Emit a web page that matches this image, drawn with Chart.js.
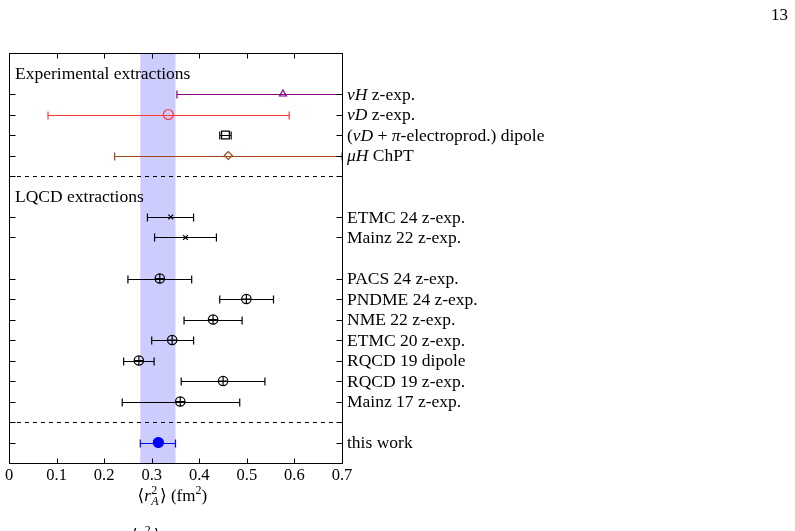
<!DOCTYPE html>
<html>
<head>
<meta charset="utf-8">
<script src="https://cdn.jsdelivr.net/npm/chart.js@4.4.1/dist/chart.umd.min.js"></script>
<style>
body { margin: 0; background: #fff; }
#wrap { position: relative; width: 795px; height: 531px; }
</style>
</head>
<body>
<div id="wrap"><canvas id="radiusChart"></canvas></div>
<script>
// rows, top to bottom (*...* = italic)
const rowNames = ['*νH* z-exp.', '*νD* z-exp.', '(*νD* + *π*-electroprod.) dipole', '*μH* ChPT',
    'ETMC 24 z-exp.', 'Mainz 22 z-exp.',
    'PACS 24 z-exp.', 'PNDME 24 z-exp.', 'NME 22 z-exp.', 'ETMC 20 z-exp.',
    'RQCD 19 dipole', 'RQCD 19 z-exp.', 'Mainz 17 z-exp.',
    'this work'];
const rowPos = [18, 17, 16, 15, 12, 11, 9, 8, 7, 6, 5, 4, 3, 1];
const centers = [0.576, 0.335, 0.455, 0.461, 0.340, 0.371, 0.317, 0.499, 0.429, 0.343, 0.273, 0.450, 0.360, 0.314];
const errLow  = [0.353, 0.082, 0.443, 0.222, 0.291, 0.306, 0.250, 0.443, 0.368, 0.300, 0.241, 0.362, 0.238, 0.276];
const errHigh = [0.799, 0.589, 0.467, 0.700, 0.388, 0.436, 0.384, 0.556, 0.490, 0.388, 0.305, 0.538, 0.485, 0.350];
const dividers = [14, 2];
const sectionNames = ['Experimental extractions', 'LQCD extractions'];
const sectionPos = [19, 13];
const xTicks = [0, 0.1, 0.2, 0.3, 0.4, 0.5, 0.6, 0.7];
const yTicks = [1, 2, 3, 4, 5, 6, 7, 8, 9, 11, 12, 14, 15, 16, 17, 18];

// marker styles per row
const markers = ['triangle', 'circle', 'rect', 'rectRot', 'crossRot', 'crossRot',
    'oplus', 'oplus', 'oplus', 'oplus', 'oplus', 'oplus', 'oplus', 'dot'];
const colors = ['#800080', '#ff3838', '#000000', '#a0461e', '#000000', '#000000',
    '#000000', '#000000', '#000000', '#000000', '#000000', '#000000', '#000000', '#0000ff'];
const radii = { triangle: 4, circle: 5, rect: 5.5, rectRot: 4, crossRot: 3.4, oplus: 4.7, dot: 5 };

const SERIF = "'Liberation Serif', 'DejaVu Serif', serif";
const LABEL_SIZE = 17.5;
const last = centers.length - 1;

function drawRich(ctx, text, x, y, size) {
    const parts = text.split('*');
    parts.forEach((p, i) => {
        if (!p) return;
        ctx.font = (i % 2 ? 'italic ' : '') + size + 'px ' + SERIF;
        ctx.fillText(p, x, y);
        x += ctx.measureText(p).width;
    });
}

const decorations = {
    id: 'decorations',
    beforeDatasetsDraw(chart) {
        const { ctx, chartArea: a, scales: { x, y } } = chart;
        ctx.save();
        ctx.beginPath();
        ctx.rect(a.left, a.top, a.width, a.height);
        ctx.clip();

        // band = this work's uncertainty
        const b0 = x.getPixelForValue(errLow[last]);
        const b1 = x.getPixelForValue(errHigh[last]);
        ctx.fillStyle = '#ccccff';
        ctx.fillRect(b0, a.top, b1 - b0, a.height);

        // dashed separators
        ctx.strokeStyle = '#000';
        ctx.lineWidth = 1;
        ctx.setLineDash([4, 4]);
        dividers.forEach(v => {
            const py = Math.round(y.getPixelForValue(v)) + 0.5;
            ctx.beginPath();
            ctx.moveTo(a.left, py);
            ctx.lineTo(a.right, py);
            ctx.stroke();
        });
        ctx.setLineDash([]);

        // error bars
        centers.forEach((c, i) => {
            const py = Math.round(y.getPixelForValue(rowPos[i])) + 0.5;
            const lo = x.getPixelForValue(errLow[i]);
            const hi = x.getPixelForValue(errHigh[i]);
            ctx.strokeStyle = colors[i];
            ctx.lineWidth = 1.2;
            ctx.beginPath();
            ctx.moveTo(lo, py); ctx.lineTo(hi, py);
            ctx.moveTo(lo, py - 4); ctx.lineTo(lo, py + 4);
            ctx.moveTo(hi, py - 4); ctx.lineTo(hi, py + 4);
            ctx.stroke();
        });
        ctx.restore();
    },
    afterDraw(chart) {
        const { ctx, chartArea: a, scales: { x, y } } = chart;
        ctx.save();
        ctx.strokeStyle = '#000';
        ctx.lineWidth = 1;
        const L = Math.round(a.left) + 0.5, R = Math.round(a.right) + 0.5;
        const T = Math.round(a.top) + 0.5, B = Math.round(a.bottom) + 0.5;
        ctx.strokeRect(L, T, R - L, B - T);

        // inward ticks
        ctx.beginPath();
        x.ticks.forEach(t => {
            const px = Math.round(x.getPixelForValue(t.value)) + 0.5;
            ctx.moveTo(px, B); ctx.lineTo(px, B - 5);
            ctx.moveTo(px, T); ctx.lineTo(px, T + 5);
        });
        y.ticks.forEach(t => {
            const py = Math.round(y.getPixelForValue(t.value)) + 0.5;
            ctx.moveTo(L, py); ctx.lineTo(L + 6, py);
            ctx.moveTo(R, py); ctx.lineTo(R - 6, py);
        });
        ctx.stroke();

        // row labels on the right
        ctx.fillStyle = '#000';
        ctx.textBaseline = 'middle';
        ctx.textAlign = 'left';
        rowNames.forEach((n, i) => {
            drawRich(ctx, n, a.right + 5, y.getPixelForValue(rowPos[i]) + 1, LABEL_SIZE);
        });
        sectionNames.forEach((n, i) => {
            drawRich(ctx, n, a.left + 6, y.getPixelForValue(sectionPos[i]) + 1, LABEL_SIZE);
        });

        // axis title <r_A^2> (fm^2)
        ctx.textBaseline = 'alphabetic';
        const base = 501;
        let cx = (a.left + a.right) / 2 - 38;
        const put = (s, style, size, dy) => {
            ctx.font = style + size + 'px ' + SERIF;
            ctx.fillText(s, cx, base + dy);
            return ctx.measureText(s).width;
        };
        cx += put('⟨', '', 17, 0);
        cx += put('r', 'italic ', 17, 0) + 0.5;
        const w2 = put('2', '', 12, -7);
        const wA = put('A', 'italic ', 12, 4);
        cx += Math.max(w2, wA) + 1.5;
        cx += put('⟩ (fm', '', 17, 0);
        cx += put('2', '', 12, -7);
        put(')', '', 17, 0);

        // page number and cut-off text below
        ctx.font = '17px ' + SERIF;
        ctx.textAlign = 'right';
        ctx.fillText('13', 788, 20);
        ctx.textAlign = 'left';
        cx = 131;
        const b2 = 541;
        ctx.font = '17px ' + SERIF;
        ctx.fillText('⟨', cx, b2); cx += ctx.measureText('⟨').width;
        ctx.font = 'italic 17px ' + SERIF;
        ctx.fillText('r', cx, b2); cx += ctx.measureText('r').width + 0.5;
        ctx.font = '12px ' + SERIF;
        ctx.fillText('2', cx, b2 - 7); cx += ctx.measureText('2').width + 3;
        ctx.font = '17px ' + SERIF;
        ctx.fillText('⟩', cx, b2);
        ctx.restore();
    }
};

const mainPoints = centers.map((c, i) => ({ x: c, y: rowPos[i] }));
const plusPoints = mainPoints.filter((p, i) => markers[i] === 'oplus');

new Chart(document.getElementById('radiusChart'), {
    type: 'scatter',
    data: {
        datasets: [{
            data: mainPoints,
            pointStyle: markers.map(m => (m === 'oplus' || m === 'dot') ? 'circle' : m),
            pointRadius: markers.map(m => radii[m]),
            pointBorderColor: colors,
            pointBackgroundColor: markers.map((m, i) => m === 'dot' ? colors[i] : 'rgba(0,0,0,0)'),
            pointBorderWidth: 1.2
        }, {
            data: plusPoints,
            pointStyle: 'cross',
            pointRadius: radii.oplus,
            pointBorderColor: '#000',
            pointBorderWidth: 1.2
        }]
    },
    options: {
        responsive: true,
        maintainAspectRatio: false,
        animation: false,
        events: [],
        layout: { padding: { top: 53, left: 9, right: 0, bottom: 0 } },
        plugins: { legend: { display: false }, tooltip: { enabled: false } },
        scales: {
            x: {
                type: 'linear',
                min: 0, max: 0.7,
                position: 'bottom',
                grid: { display: false, drawTicks: false },
                border: { display: false },
                afterBuildTicks: s => { s.ticks = xTicks.map(v => ({ value: v })); },
                ticks: { padding: 2.5, color: '#000', font: { family: SERIF, size: 16.5 } },
                afterFit: s => { s.height = 68; }
            },
            y: {
                type: 'linear',
                min: 0, max: 20,
                position: 'right',
                grid: { display: false, drawTicks: false },
                border: { display: false },
                afterBuildTicks: s => { s.ticks = yTicks.map(v => ({ value: v })); },
                ticks: { display: false },
                afterFit: s => { s.width = 453; }
            }
        }
    },
    plugins: [decorations]
});
</script>
</body>
</html>
